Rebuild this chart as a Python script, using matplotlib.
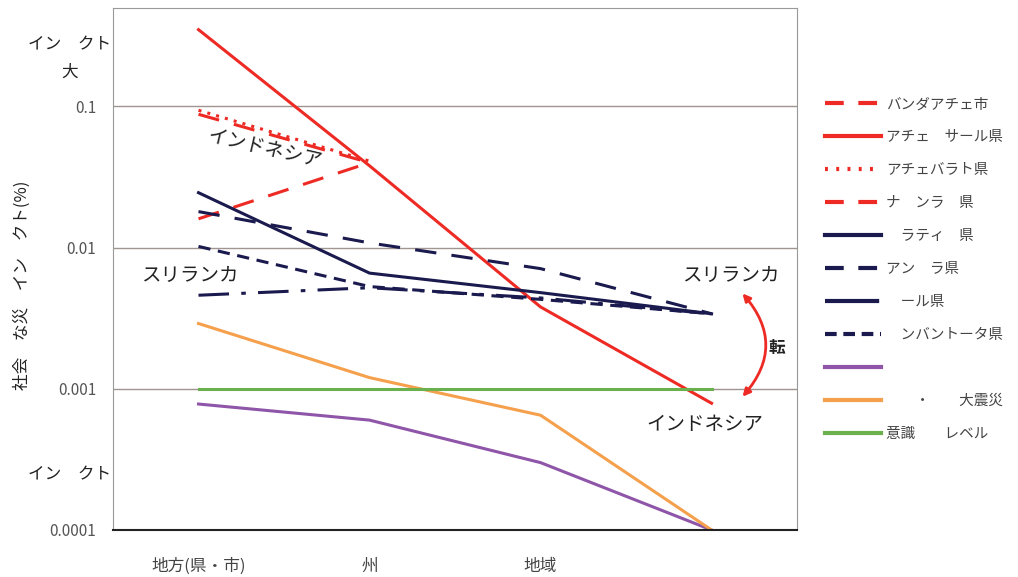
"""Recreate the disaster-impact-by-scale chart (log y axis, 4 spatial scales)."""

import numpy as np
import matplotlib
matplotlib.use("Agg")
import matplotlib.pyplot as plt
from matplotlib.patches import FancyArrowPatch

plt.rcParams["font.family"] = ["Noto Sans CJK JP", "DejaVu Sans"]

# spatial scales (4th one has no label in the source)
scales = ["地方(県・市)", "州", "地域", ""]

nan = np.nan
banda_aceh = [0.088, 0.040, nan, nan]
aceh_besar = [0.35, 0.038, 0.0038, 0.00079]
aceh_barat = [0.094, 0.041, nan, nan]
nagan_raya = [0.016, 0.040, nan, nan]
matara = [0.0245, 0.0066, 0.0048, 0.0034]
ampara = [0.018, 0.0108, 0.0071, 0.0034]
galle = [0.0046, 0.0052, 0.0044, 0.0034]
hambantota = [0.0102, 0.0053, 0.0043, 0.0034]
purple_series = [0.00078, 0.0006, 0.0003, 0.0001]
quake_series = [0.0029, 0.0012, 0.00065, 0.0001]
awareness = [0.001, 0.001, 0.001, 0.001]

labels = [
    "バンダアチェ市", "アチェ\u3000サール県", "アチェバラト県", "ナ\u3000ンラ\u3000県",
    "\u3000ラティ\u3000県", "アン\u3000ラ県", "\u3000ール県", "\u3000ンバントータ県",
    "", "\u3000\u3000・\u3000\u3000大震災", "意識\u3000\u3000レベル",
]

RED = "#ee2a24"
NAVY = "#1a1a4e"
PURPLE = "#8e55a8"
ORANGE = "#f5a04c"
GREEN = "#6ab04c"

# (values, colour, plot dash, legend dash)
series = [
    (banda_aceh, RED, (0, (7, 5)), (0, (4.5, 3.5))),
    (aceh_besar, RED, "-", "-"),
    (aceh_barat, RED, (0, (1, 2)), (0, (0.7, 2))),
    (nagan_raya, RED, (0, (7, 5)), (0, (4.5, 3.5))),
    (matara, NAVY, "-", "-"),
    (ampara, NAVY, (0, (7, 5)), (0, (4.5, 3.5))),
    (galle, NAVY, (0, (10, 4, 1.5, 4)), (0, (13, 5, 0.8, 6))),
    (hambantota, NAVY, (0, (4, 2.5)), (0, (2.8, 1.6))),
    (purple_series, PURPLE, "-", "-"),
    (quake_series, ORANGE, "-", "-"),
    (awareness, GREEN, "-", "-"),
]

fig = plt.figure(figsize=(10.18, 5.77), dpi=100)
ax = fig.add_axes([0.111, 0.0815, 0.672, 0.905])

x = np.arange(len(scales))
handles = []
for (vals, color, ls, _), lab in zip(series, labels):
    h, = ax.plot(x, vals, color=color, linestyle=ls, linewidth=2.2, label=lab)
    handles.append(h)

ax.set_yscale("log")
ax.set_ylim(1e-4, 0.5)
ax.set_xlim(-0.5, 3.5)
ax.set_yticks([1e-4, 1e-3, 1e-2, 1e-1])
ax.set_yticklabels(["0.0001", "0.001", "0.01", "0.1"])
ax.minorticks_off()
ax.set_xticks(x)
ax.set_xticklabels(scales, fontsize=12, color="#444444")
ax.tick_params(axis="both", length=0)
ax.tick_params(axis="y", labelsize=11, labelcolor="#555555", pad=12)
ax.tick_params(axis="x", pad=20)
ax.grid(axis="y", color="#a09590", linewidth=1.0)
ax.set_axisbelow(True)
for side in ("left", "top", "right"):
    ax.spines[side].set_color("#999999")
ax.spines["bottom"].set_color("#222222")
ax.spines["bottom"].set_linewidth(1.5)

# annotations inside the plot
ax.text(0.39, 0.05, "インドネシア", fontsize=14, rotation=-13, ha="center", va="center", color="#222222")
ax.text(-0.05, 0.0063, "スリランカ", fontsize=14, ha="center", va="center", color="#222222")
ax.text(3.11, 0.0064, "スリランカ", fontsize=14, ha="center", va="center", color="#222222")
ax.text(2.96, 0.00056, "インドネシア", fontsize=14, ha="center", va="center", color="#222222")
ax.text(3.38, 0.00195, "転", fontsize=12, ha="center", va="center", color="#222222", weight="bold")
arrow = FancyArrowPatch((3.17, 0.0049), (3.17, 0.00085), connectionstyle="arc3,rad=-0.45",
                        arrowstyle="<|-|>", mutation_scale=11, color=RED, linewidth=2)
ax.add_patch(arrow)

# y-axis side labels
side_kw = dict(fontsize=12, ha="center", va="center", color="#222222")
fig.text(70 / 1018, 1 - 45 / 577, "イン\u3000クト", **side_kw)
fig.text(70 / 1018, 1 - 72 / 577, "大", **side_kw)
fig.text(70 / 1018, 1 - 475 / 577, "イン\u3000クト", **side_kw)
fig.text(22 / 1018, 1 - 285 / 577, "社会\u3000な災\u3000イン\u3000クト(%)", rotation=90, **side_kw)

leg = fig.legend(handles=handles, labels=labels, loc="upper left",
                 bbox_to_anchor=(812 / 1018, 1 - 84 / 577), frameon=False, fontsize=10.5,
                 handlelength=3.8, labelspacing=1.3, handletextpad=0.4, labelcolor="#444444")
for line, s in zip(leg.get_lines(), series):
    line.set_linewidth(3)
    line.set_linestyle(s[3])

fig.savefig("out.png", dpi=100)
